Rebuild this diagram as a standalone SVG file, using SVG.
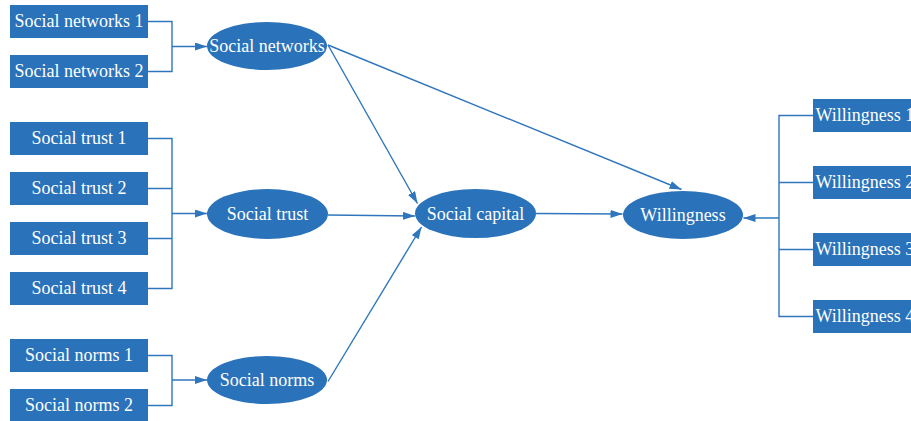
<svg xmlns="http://www.w3.org/2000/svg" width="911" height="421" viewBox="0 0 911 421">
<style>
.box{fill:#2a72b9}
.ell{fill:#2a72b9}
.t{font-family:"Liberation Serif","Times New Roman",serif;font-size:18px;fill:#ffffff;text-anchor:middle}
.ts{font-family:"Liberation Serif","Times New Roman",serif;font-size:18px;fill:#ffffff;text-anchor:start}
.c{fill:none;stroke:#2f76bc;stroke-width:1.4}
</style>
<defs>
<marker id="arr" markerUnits="userSpaceOnUse" markerWidth="13" markerHeight="9" refX="12" refY="4" orient="auto">
<path d="M0,0 L12,4 L0,8 z" fill="#2f76bc"/>
</marker>
</defs>
<rect width="911" height="421" fill="#ffffff"/>
<g id="connectors">
<path class="c" d="M148,21.5 H172 V71.5 H148"/>
<path class="c" d="M172,46.5 H207" marker-end="url(#arr)"/>
<path class="c" d="M148,138.5 H172 V288.5 H148 M148,188.5 H172 M148,238.5 H172"/>
<path class="c" d="M172,213.5 H207" marker-end="url(#arr)"/>
<path class="c" d="M148,355.5 H172 V405.5 H148"/>
<path class="c" d="M172,380 H207" marker-end="url(#arr)"/>
<path class="c" d="M328,45 L417.5,203.5" marker-end="url(#arr)"/>
<path class="c" d="M328,45 L681.5,189.5" marker-end="url(#arr)"/>
<path class="c" d="M328,215 L415,216" marker-end="url(#arr)"/>
<path class="c" d="M328,381.5 L421.5,227" marker-end="url(#arr)"/>
<path class="c" d="M536,213.5 L622.5,214" marker-end="url(#arr)"/>
<path class="c" d="M813,115.5 H779 V316.5 H813 M779,182.5 H813 M779,249.5 H813"/>
<path class="c" d="M779,218 H743.5" marker-end="url(#arr)"/>
</g>
<g id="sn1"><rect class="box" x="10" y="5" width="138" height="33"/><text class="t" x="79" y="27">Social networks 1</text></g>
<g id="sn2"><rect class="box" x="10" y="55" width="138" height="33"/><text class="t" x="79" y="77">Social networks 2</text></g>
<g id="st1"><rect class="box" x="10" y="122" width="138" height="33"/><text class="t" x="79" y="144">Social trust 1</text></g>
<g id="st2"><rect class="box" x="10" y="172" width="138" height="33"/><text class="t" x="79" y="194">Social trust 2</text></g>
<g id="st3"><rect class="box" x="10" y="222" width="138" height="33"/><text class="t" x="79" y="244">Social trust 3</text></g>
<g id="st4"><rect class="box" x="10" y="272" width="138" height="33"/><text class="t" x="79" y="294">Social trust 4</text></g>
<g id="sno1"><rect class="box" x="10" y="339" width="138" height="33"/><text class="t" x="79" y="361">Social norms 1</text></g>
<g id="sno2"><rect class="box" x="10" y="389" width="138" height="32"/><text class="t" x="79" y="411">Social norms 2</text></g>
<g id="e-networks"><ellipse class="ell" cx="267" cy="46" rx="60" ry="24"/><text class="t" x="267" y="52">Social networks</text></g>
<g id="e-trust"><ellipse class="ell" cx="267.5" cy="214" rx="60.5" ry="25"/><text class="t" x="267.5" y="220">Social trust</text></g>
<g id="e-norms"><ellipse class="ell" cx="267" cy="380" rx="60" ry="24"/><text class="t" x="267" y="386">Social norms</text></g>
<g id="e-capital"><ellipse class="ell" cx="475.5" cy="213.5" rx="60.5" ry="24.5"/><text class="t" x="475.5" y="219.5">Social capital</text></g>
<g id="e-willingness"><ellipse class="ell" cx="683" cy="215" rx="60" ry="24"/><text class="t" x="683" y="221">Willingness</text></g>
<g id="w1"><rect class="box" x="813" y="99" width="110" height="33"/><text class="ts" x="815.5" y="121">Willingness 1</text></g>
<g id="w2"><rect class="box" x="813" y="166" width="110" height="33"/><text class="ts" x="815.5" y="188">Willingness 2</text></g>
<g id="w3"><rect class="box" x="813" y="233" width="110" height="33"/><text class="ts" x="815.5" y="255">Willingness 3</text></g>
<g id="w4"><rect class="box" x="813" y="300" width="110" height="33"/><text class="ts" x="815.5" y="322">Willingness 4</text></g>
</svg>
